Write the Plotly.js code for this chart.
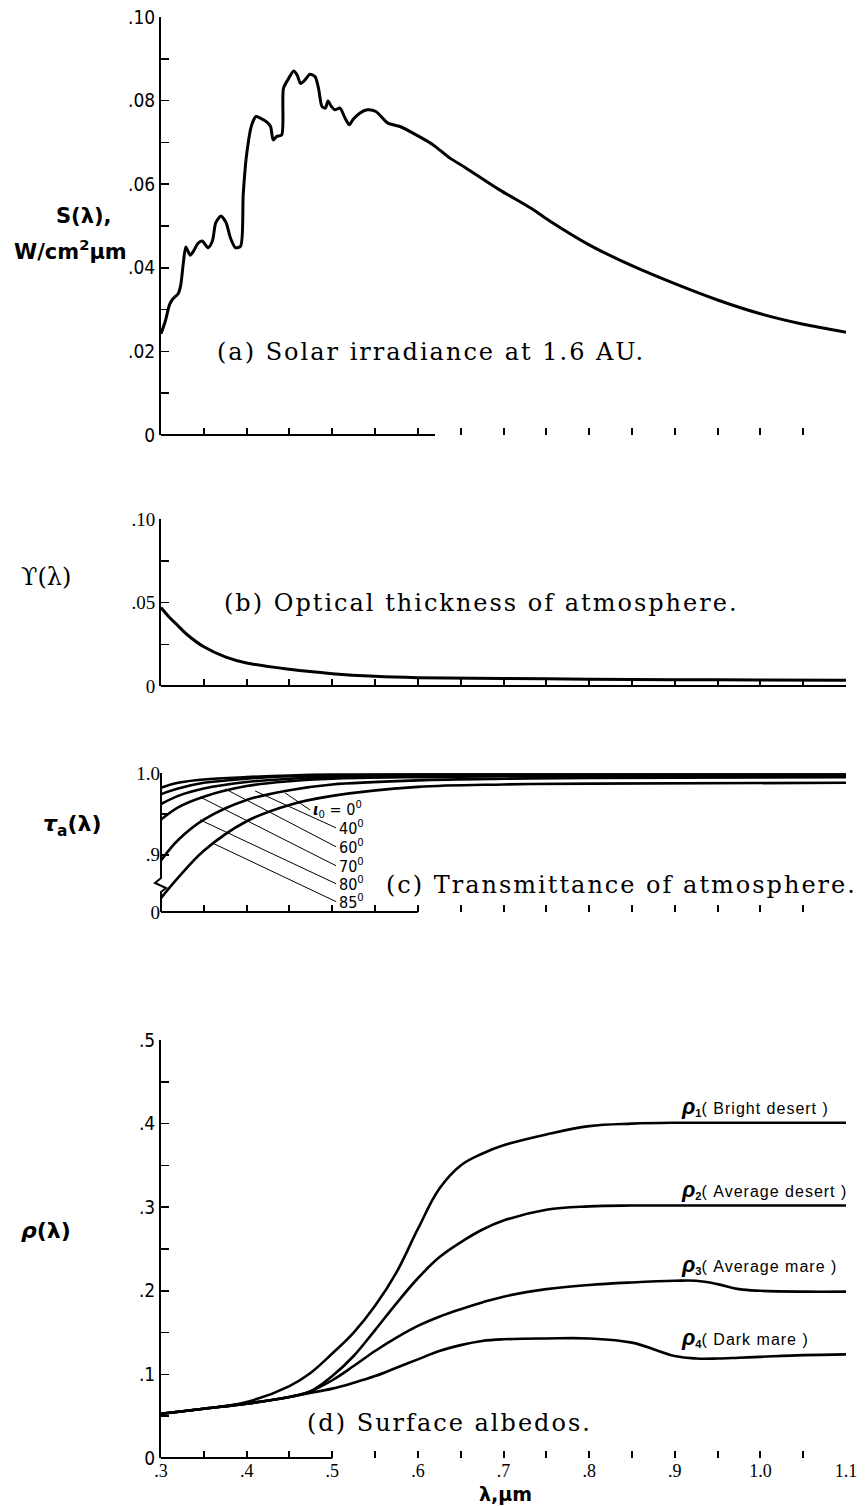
<!DOCTYPE html>
<html><head><meta charset="utf-8">
<script src="https://cdn.plot.ly/plotly-3.0.1.min.js"></script>
<style>html,body{margin:0;padding:0;background:#fff}#chart{width:865px;height:1506px}</style>
</head><body><div id="chart"></div>
<script>
// ---------- DATA ----------
// (a) Solar irradiance at 1.6 AU, W/cm^2 um
const wlS = [0.300,0.305,0.310,0.314,0.320,0.323,0.326,0.329,0.334,0.338,0.343,0.348,0.355,0.360,0.364,0.370,0.376,0.381,0.387,0.393,0.396,0.400,0.406,0.411,0.416,0.424,0.428,0.431,0.435,0.441,0.443,0.449,0.455,0.459,0.463,0.468,0.474,0.480,0.484,0.488,0.492,0.495,0.499,0.503,0.509,0.515,0.520,0.524,0.532,0.541,0.551,0.565,0.579,0.598,0.618,0.637,0.656,0.695,0.734,0.754,0.80,0.85,0.90,0.95,1.00,1.05,1.10];
const S   = [0.0242,0.0272,0.0312,0.0326,0.0338,0.0358,0.0410,0.0450,0.0430,0.0440,0.0458,0.0464,0.0448,0.0464,0.0508,0.0524,0.0508,0.0472,0.0448,0.0452,0.0575,0.0671,0.0742,0.0762,0.0758,0.0748,0.0738,0.0706,0.0714,0.0718,0.0829,0.0853,0.0871,0.0861,0.0841,0.0849,0.0863,0.0857,0.0829,0.0786,0.0782,0.0799,0.0786,0.0778,0.0782,0.0758,0.0742,0.0754,0.0770,0.0778,0.0774,0.0746,0.0738,0.0718,0.0694,0.0663,0.0639,0.0587,0.0540,0.0512,0.0455,0.0405,0.0362,0.0323,0.0290,0.0265,0.0246];

// (b) Optical thickness of atmosphere
const wlU = [0.30,0.31,0.32,0.33,0.35,0.375,0.40,0.45,0.50,0.55,0.60,0.70,0.80,0.90,1.00,1.10];
const U   = [0.047,0.041,0.036,0.031,0.0235,0.0175,0.0138,0.0100,0.0074,0.0058,0.0050,0.0045,0.0041,0.0038,0.0036,0.0034];

// (c) Transmittance of atmosphere, for zenith angles
const wlT = [0.30,0.32,0.35,0.40,0.45,0.50,0.60,0.70,0.80,1.10];
const angles = ['0','40','60','70','80','85'];
const T0  = [0.982,0.988,0.992,0.995,0.997,0.998,0.998,0.998,0.998,0.998];
const T40 = [0.974,0.981,0.988,0.993,0.996,0.997,0.998,0.998,0.998,0.998];
const T60 = [0.962,0.972,0.981,0.989,0.993,0.995,0.997,0.997,0.997,0.997];
const T70 = [0.943,0.958,0.971,0.984,0.990,0.993,0.995,0.996,0.996,0.996];
const T80 = [0.893,0.918,0.943,0.967,0.979,0.986,0.991,0.993,0.994,0.995];
const T85 = [0.847,0.872,0.905,0.941,0.961,0.972,0.983,0.986,0.987,0.988];

// (d) Surface albedos
const wlR = [0.30,0.35,0.40,0.45,0.475,0.50,0.525,0.55,0.575,0.60,0.625,0.65,0.675,0.70,0.75,0.80,0.85,0.90,0.925,0.95,0.975,1.00,1.05,1.10];
const rho1 = [0.053,0.059,0.067,0.086,0.102,0.125,0.150,0.182,0.222,0.274,0.322,0.350,0.364,0.374,0.387,0.397,0.400,0.401,0.401,0.401,0.401,0.401,0.401,0.401];
const rho2 = [0.053,0.059,0.065,0.073,0.080,0.098,0.122,0.153,0.185,0.215,0.240,0.258,0.273,0.284,0.297,0.301,0.302,0.302,0.302,0.302,0.302,0.302,0.302,0.302];
const rho3 = [0.053,0.059,0.065,0.073,0.080,0.093,0.110,0.128,0.144,0.158,0.169,0.178,0.186,0.193,0.202,0.207,0.210,0.212,0.212,0.208,0.202,0.200,0.199,0.199];
const rho4 = [0.053,0.059,0.065,0.073,0.078,0.083,0.090,0.098,0.108,0.118,0.128,0.135,0.140,0.142,0.143,0.143,0.138,0.122,0.119,0.119,0.120,0.121,0.123,0.124];
const rhoNames = ['Bright desert','Average desert','Average mare','Dark mare'];
const rhoLabelY = [0.401,0.302,0.212,0.124];

// tick labels
const xTickVals = [0.3,0.35,0.4,0.45,0.5,0.55,0.6,0.65,0.7,0.75,0.8,0.85,0.9,0.95,1.0,1.05,1.1];
const xTickText = ['.3','','.4','','.5','','.6','','.7','','.8','','.9','','1.0','','1.1'];
const yaVals = [0,0.01,0.02,0.03,0.04,0.05,0.06,0.07,0.08,0.09,0.10];
const yaText = ['0','','.02','','.04','','.06','','.08','','.10'];
const ybVals = [0,0.025,0.05,0.075,0.10];
const ybText = ['0','','.05','','.10'];
const ycVals = [0.83,0.9,0.95,1.0];
const ycText = ['0','.9','','1.0'];
const ydVals = [0,0.05,0.1,0.15,0.2,0.25,0.3,0.35,0.4,0.45,0.5];
const ydText = ['0','','.1','','.2','','.3','','.4','','.5'];

// ---------- LAYOUT HELPERS ----------
const W=865,H=1506;
const px = x => x/W, py = y => 1 - y/H;
const XL=161, XR=846;
const BLK='#000';
const sansN = 'Liberation Sans Narrow, DejaVu Sans Condensed, sans-serif';
const serif = 'Liberation Serif, DejaVu Serif, serif';

function xax(anchor, labels){
  return {domain:[px(XL),px(XR)], range:[0.3,1.1], anchor:anchor, showline:false, zeroline:false, showgrid:false,
    ticks:'inside', ticklen:7, tickwidth:2, tickcolor:BLK, tickmode:'array', tickvals:xTickVals,
    ticktext: labels ? xTickText : xTickVals.map(()=>''), tickfont:{family:serif,size:18,color:BLK}, fixedrange:true};
}
function yax(anchor, dom, range, vals, text, fam, showline){
  return {domain:dom, range:range, anchor:anchor, showline:showline, linewidth:2, linecolor:BLK, zeroline:false, showgrid:false,
    ticks:'inside', ticklen:8, tickwidth:1.5, tickcolor:BLK, tickmode:'array', tickvals:vals, ticktext:text,
    tickfont:{family:fam,size:19,color:BLK}, fixedrange:true};
}

const line = (w,s)=>({color:BLK,width:w,shape:'spline',smoothing:s});
const traces = [];
traces.push({x:wlS,y:S,xaxis:'x',yaxis:'y',mode:'lines',line:line(3,0.7),hoverinfo:'skip'});
traces.push({x:wlU,y:U,xaxis:'x2',yaxis:'y2',mode:'lines',line:line(3,1),hoverinfo:'skip'});
[T0,T40,T60,T70,T80,T85].forEach((t,i)=>traces.push({x:wlT,y:t,name:angles[i],xaxis:'x3',yaxis:'y3',mode:'lines',line:line(2.6,1),hoverinfo:'skip'}));
[rho1,rho2,rho3,rho4].forEach((r,i)=>traces.push({x:wlR,y:r,name:rhoNames[i],xaxis:'x4',yaxis:'y4',mode:'lines',line:line(2.6,1.1),hoverinfo:'skip'}));

const ann = [];
function capt(text, x, y){
  ann.push({xref:'paper',yref:'paper',x:px(x),y:py(y),xanchor:'left',yanchor:'middle',showarrow:false,
    text:'<span style="letter-spacing:2px">'+text+'</span>',font:{family:'DejaVu Serif',size:24,color:BLK}});
}
capt('(a) Solar irradiance at 1.6 AU.',215,352);
capt('(b) Optical thickness of atmosphere.',222,603);
capt('(c) Transmittance of atmosphere.',384,885);
capt('(d) Surface albedos.',305,1423);

function ylab(text,x,y,fam,size){
  ann.push({xref:'paper',yref:'paper',x:px(x),y:py(y),xanchor:'center',yanchor:'middle',showarrow:false,
    text:text,font:{family:fam,size:size,color:BLK}});
}
ylab('<b>S(λ),</b>',84,216,'DejaVu Sans',21);
ylab('<b>W/cm<sup>2</sup>μm</b>',70,250,'DejaVu Sans',21);
ylab('ϒ(λ)',46,577,'DejaVu Serif',24);
ylab('<b><i>τ</i><sub>a</sub>(λ)</b>',72,826,'DejaVu Sans',22);
ylab('<b><i>ρ</i>(λ)</b>',46,1230,'DejaVu Sans',22);
ylab('<b>λ,μm</b>',505,1494,'DejaVu Sans',19);

// albedo curve labels
rhoNames.forEach((n,i)=>{
  ann.push({xref:'x4',yref:'y4',x:0.905,y:rhoLabelY[i],xanchor:'left',yanchor:'bottom',yshift:2,showarrow:false,
    text:'<b><i><span style="font-size:22px">ρ</span></i><sub>'+(i+1)+'</sub></b><span style="letter-spacing:1px">( '+n+' )</span>',
    font:{family:'Liberation Sans Narrow, sans-serif',size:16,color:BLK}});
});

// transmittance angle labels with leader lines
const tipX  = [0.445,0.410,0.375,0.3456,0.3456,0.3596];
const tipY  = [0.9756,0.978,0.9805,0.9707,0.9427,0.9146];
const labX  = [0.474,0.5044,0.5044,0.5044,0.5044,0.5044];
const labY  = [0.9549,0.9329,0.9098,0.8866,0.8646,0.8427];
const shapes = [];
angles.forEach((a,i)=>{
  shapes.push({type:'line',xref:'x3',yref:'y3',x0:tipX[i],y0:tipY[i],x1:labX[i],y1:labY[i],line:{color:BLK,width:1}});
  const txt = i===0 ? '<b><i>ι</i></b><sub>0</sub> = 0<sup>0</sup>' : a+'<sup>0</sup>';
  ann.push({xref:'x3',yref:'y3',x:labX[i],y:labY[i],xanchor:'left',yanchor:'middle',xshift:1,showarrow:false,
    text:txt,font:{family:sansN,size:16,color:BLK}});
});

// partial x-axis lines (as in the original scan)
shapes.push({type:'line',xref:'x',yref:'y domain',x0:0.3,x1:0.62,y0:0,y1:0,line:{color:BLK,width:2}});
shapes.push({type:'line',xref:'x2',yref:'y2 domain',x0:0.3,x1:1.1,y0:0,y1:0,line:{color:BLK,width:2}});
shapes.push({type:'line',xref:'x3',yref:'y3 domain',x0:0.3,x1:0.6,y0:0,y1:0,line:{color:BLK,width:2}});
shapes.push({type:'line',xref:'x4',yref:'y4 domain',x0:0.3,x1:0.5,y0:0,y1:0,line:{color:BLK,width:2}});
// broken y-axis of panel (c)
const bx = px(XL);
shapes.push({type:'path',xref:'paper',yref:'paper',
  path:`M ${bx},${py(773)} L ${bx},${py(878)} L ${px(155)},${py(883)} L ${px(166)},${py(888)} L ${bx},${py(892)} L ${bx},${py(912)}`,
  line:{color:BLK,width:2}});

const layout = {
  width:W,height:H,margin:{l:0,r:0,t:0,b:0},paper_bgcolor:'#fff',plot_bgcolor:'rgba(0,0,0,0)',showlegend:false,
  xaxis: xax('y',false),
  xaxis2: xax('y2',false),
  xaxis3: xax('y3',false),
  xaxis4: xax('y4',true),
  yaxis: yax('x',[py(435),py(17)],[0,0.1],yaVals,yaText,sansN,true),
  yaxis2: yax('x2',[py(686),py(519)],[0,0.1],ybVals,ybText,serif,true),
  yaxis3: yax('x3',[py(912),py(773)],[0.83,1.0],ycVals,ycText,serif,false),
  yaxis4: yax('x4',[py(1458),py(1040)],[0,0.5],ydVals,ydText,sansN,true),
  annotations:ann, shapes:shapes
};
Plotly.newPlot('chart',traces,layout,{staticPlot:true,displayModeBar:false});
</script></body></html>
